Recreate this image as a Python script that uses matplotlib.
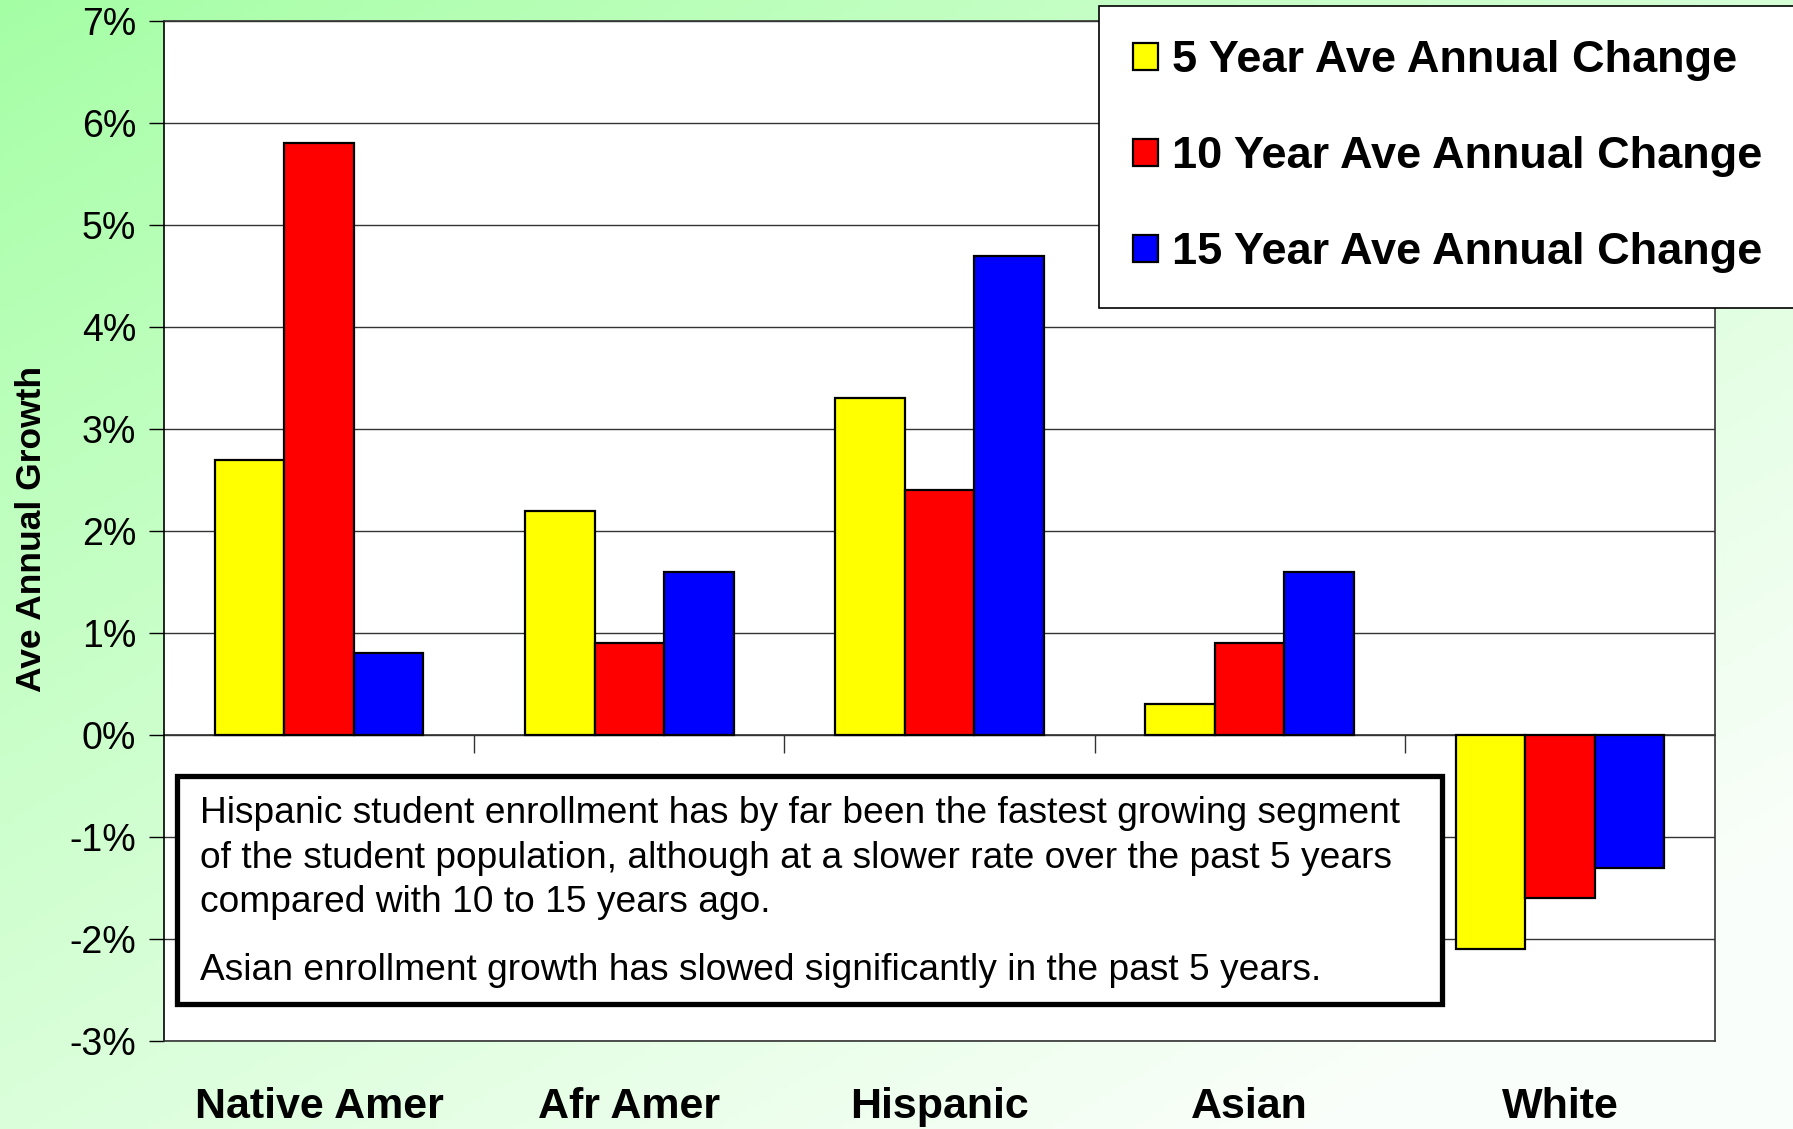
import numpy as np
import matplotlib
matplotlib.use("Agg")
import matplotlib.pyplot as plt
from matplotlib.patches import Rectangle

plt.rcParams['font.family'] = ['Liberation Sans', 'DejaVu Sans']

# data
categories = ["Native Amer", "Afr Amer", "Hispanic", "Asian", "White"]
series_names = ["5 Year Ave Annual Change", "10 Year Ave Annual Change", "15 Year Ave Annual Change"]
five_year = [2.7, 2.2, 3.3, 0.3, -2.1]
ten_year = [5.8, 0.9, 2.4, 0.9, -1.6]
fifteen_year = [0.8, 1.6, 4.7, 1.6, -1.3]
colors = ["#FFFF00", "#FF0000", "#0000FF"]
yticks = [-3, -2, -1, 0, 1, 2, 3, 4, 5, 6, 7]

note_1 = ("Hispanic student enrollment has by far been the fastest growing segment\n"
          "of the student population, although at a slower rate over the past 5 years\n"
          "compared with 10 to 15 years ago.")
note_2 = "Asian enrollment growth has slowed significantly in the past 5 years."

W, H = 1793, 1129
fig = plt.figure(figsize=(W / 100, H / 100), dpi=100)

# green diagonal background
bg = fig.add_axes([0, 0, 1, 1], zorder=-10)
gx, gy = np.meshgrid(np.linspace(0, 1, 300), np.linspace(0, 1, 200))
t = np.clip(0.55 * gx + 0.6 * gy, 0, 1) ** 0.9
c0 = np.array([164, 255, 164]) / 255
c1 = np.array([250, 254, 250]) / 255
img = c0[None, None, :] * (1 - t[..., None]) + c1[None, None, :] * t[..., None]
bg.imshow(img, aspect='auto', extent=[0, 1, 1, 0])
bg.axis('off')

ax = fig.add_axes([164 / W, 1 - 1041 / H, (1715 - 164) / W, (1041 - 21) / H])
ax.set_facecolor("white")

x = np.arange(len(categories))
width = 0.224
for i, (vals, name) in enumerate(zip([five_year, ten_year, fifteen_year], series_names)):
    ax.bar(x + (i - 1) * width, vals, width, color=colors[i], edgecolor="black",
           linewidth=1.6, label=name, zorder=3)

ax.set_xlim(-0.5, len(categories) - 0.5)
ax.set_ylim(-3, 7)
ax.set_yticks(yticks)
ax.set_yticklabels([f"{v}%" for v in yticks], fontsize=27)
ax.yaxis.grid(True, color="#333333", linewidth=1)
ax.set_axisbelow(True)
ax.tick_params(axis='y', length=11, width=1, pad=9)

ax.set_xticks(x)
ax.set_xticklabels(categories, fontsize=31, fontweight='bold')
ax.tick_params(axis='x', length=0, pad=33)

for s in ax.spines.values():
    s.set_color("#333333")
    s.set_linewidth(1.2)
ax.spines['left'].set_color("black")

# category axis crossing at 0%
sec = ax.secondary_xaxis(0.3)
sec.set_xticks(np.arange(0.5, len(categories) - 0.5, 1))
sec.set_xticklabels([])
sec.tick_params(length=13, width=1, direction='out', color="#333333")
sec.spines['bottom'].set_color("#333333")
sec.spines['bottom'].set_linewidth(1.2)

fig.text(32 / W, 1 - 529 / H, "Ave Annual Growth", fontsize=25.5, fontweight='bold',
         rotation=90, ha='center', va='center')

leg = fig.legend(loc='upper left', bbox_to_anchor=(1099 / W, 1 - 6 / H),
                 prop={'weight': 'bold', 'size': 32.5}, frameon=True, fancybox=False,
                 framealpha=1, handlelength=0.55, handleheight=0.55, handletextpad=0.3,
                 labelspacing=1.22, borderpad=0.76, borderaxespad=0)
leg.get_frame().set_edgecolor("black")
leg.get_frame().set_linewidth(1.2)

# note box
fig.patches.append(Rectangle((177 / W, 1 - 1004 / H), (1442 - 177) / W, (1004 - 776) / H,
                             transform=fig.transFigure, facecolor="white",
                             edgecolor="black", linewidth=3.8, zorder=5))
fig.text(200 / W, 1 - 796 / H, note_1, fontsize=26.7, va='top', ha='left',
         linespacing=1.36, zorder=6)
fig.text(200 / W, 1 - 970 / H, note_2, fontsize=26.7, va='center', ha='left', zorder=6)

fig.savefig("out.png", dpi=100)
